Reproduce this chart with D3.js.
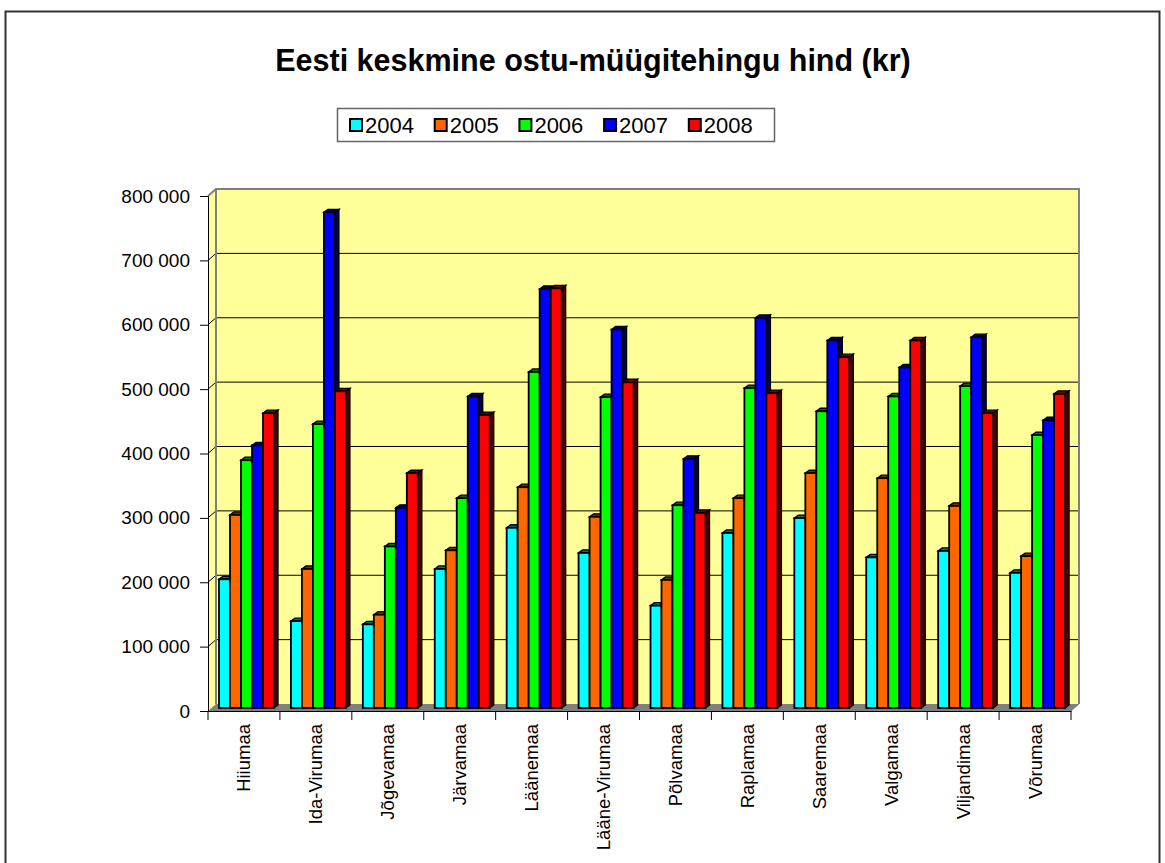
<!DOCTYPE html>
<html><head><meta charset="utf-8">
<script src="https://cdn.jsdelivr.net/npm/d3@7"></script>
<style>html,body{margin:0;padding:0;background:#fff}svg{display:block}</style>
</head><body>
<script>
const categories = ["Hiiumaa","Ida-Virumaa","Jõgevamaa","Järvamaa","Läänemaa","Lääne-Virumaa","Põlvamaa","Raplamaa","Saaremaa","Valgamaa","Viljandimaa","Võrumaa"];
const years = ["2004","2005","2006","2007","2008"];
const v2004 = [200000,135000,130000,216000,280000,241000,159000,272000,295000,234000,244000,210000];
const v2005 = [300000,216000,145000,245000,343000,297000,199000,326000,365000,357000,314000,236000];
const v2006 = [385000,441000,251000,326000,522000,483000,315000,497000,461000,484000,500000,424000];
const v2007 = [408000,770000,311000,484000,651000,588000,387000,606000,571000,529000,576000,447000];
const v2008 = [458000,492000,365000,455000,652000,506000,303000,489000,545000,571000,458000,488000];
const yTicks = [0,100000,200000,300000,400000,500000,600000,700000,800000];
const colors = ["#00FFFF","#FF6600","#00FF00","#0000FF","#FF0000"];
const title = "Eesti keskmine ostu-müügitehingu hind (kr)";

const series = [v2004,v2005,v2006,v2007,v2008];
const W = 1165, H = 863;
const svg = d3.select("body").append("svg").attr("width",W).attr("height",H);
const fmt = d3.formatLocale({decimal:",",thousands:" ",grouping:[3],currency:["",""]}).format(",d");

svg.append("rect").attr("x",5.5).attr("y",11.5).attr("width",1154).attr("height",900)
  .attr("fill","none").attr("stroke","#333").attr("stroke-width",2);

svg.append("text").attr("x",593).attr("y",71).attr("text-anchor","middle")
  .attr("font-family","Liberation Sans, Arial, sans-serif").attr("font-weight","bold")
  .attr("font-size",30.5).text(title);

// scales
const yFront = d3.scaleLinear().domain([0,800000]).range([711,196]);
const DX = 8, DY = -7;
const yBack = v => yFront(v) + DY;
const yBar = d3.scaleLinear().domain([0,800000]).range([708,193]);
const x0 = d3.scaleBand().domain(categories).range([208,1071]).padding(0);
const x1 = d3.scaleBand().domain(years).range([11,66]).padding(0);

const xL = 208, xR = 1071;
// walls
svg.append("polygon").attr("points",[[xL,yFront(0)],[xL+DX,yBack(0)],[xL+DX,yBack(800000)],[xL,yFront(800000)]].join(" "))
  .attr("fill","#FFFF99");
svg.append("rect").attr("x",xL+DX).attr("y",yBack(800000)).attr("width",xR-xL).attr("height",yBack(0)-yBack(800000))
  .attr("fill","#FFFF99");
// floor
svg.append("polygon").attr("points",[[xL,yFront(0)],[xR,yFront(0)],[xR+DX,yBack(0)],[xL+DX,yBack(0)]].join(" "))
  .attr("fill","#808080");
// gridlines
yTicks.filter(t=>t>0).forEach(t=>{
  svg.append("line").attr("x1",xL+DX).attr("x2",xR+DX).attr("y1",yBack(t)).attr("y2",yBack(t))
    .attr("stroke","#000").attr("stroke-width",1);
  svg.append("line").attr("x1",xL).attr("x2",xL+DX).attr("y1",yFront(t)).attr("y2",yBack(t))
    .attr("stroke","#000").attr("stroke-width",1);
});
// wall borders
svg.append("polyline").attr("points",[[xL,yFront(800000)],[xL+DX,yBack(800000)],[xR+DX,yBack(800000)],[xR+DX,yBack(0)]].join(" "))
  .attr("fill","none").attr("stroke","#808080").attr("stroke-width",2);
svg.append("line").attr("x1",xL+DX).attr("x2",xL+DX).attr("y1",yBack(800000)).attr("y2",yBack(0))
  .attr("stroke","#808080").attr("stroke-width",2);
svg.append("line").attr("x1",xR).attr("x2",xR+DX).attr("y1",yFront(0)).attr("y2",yBack(0))
  .attr("stroke","#808080").attr("stroke-width",1);

// bars
const bw = x1.bandwidth(), bdx = 4, bdy = -3;
categories.forEach((c,i)=>{
  const g = svg.append("g");
  years.forEach((yr,j)=>{
    const v = series[j][i];
    const x = x0(c) + x1(yr);
    const top = yBar(v), base = yBar(0);
    const col = d3.color(colors[j]);
    g.append("polygon").attr("points",[[x+bw,top],[x+bw+bdx,top+bdy],[x+bw+bdx,base+bdy],[x+bw,base]].join(" "))
      .attr("fill",col.darker(3.2)).attr("stroke","#000").attr("stroke-width",1.3);
    g.append("polygon").attr("points",[[x,top],[x+bdx,top+bdy],[x+bw+bdx,top+bdy],[x+bw,top]].join(" "))
      .attr("fill",col.darker(2.2)).attr("stroke","#000").attr("stroke-width",1.3);
    g.append("rect").attr("x",x).attr("y",top).attr("width",bw).attr("height",base-top)
      .attr("fill",colors[j]).attr("stroke","#000").attr("stroke-width",1.8);
  });
});

// y axis
const yAxis = d3.axisLeft(yFront).tickValues(yTicks).tickSize(8).tickPadding(10).tickFormat(fmt);
const ya = svg.append("g").attr("transform",`translate(${xL},0)`).call(yAxis);
ya.selectAll("text").attr("font-family","Liberation Sans, Arial, sans-serif").attr("font-size",19).attr("fill","#000");
ya.selectAll("line,path").attr("stroke","#000");

// x axis
const xa = svg.append("g").attr("transform",`translate(0,${yFront(0)})`)
  .call(d3.axisBottom(x0).tickSize(0).tickFormat(""));
xa.select("path").attr("stroke","#000");
d3.range(categories.length+1).forEach(k=>{
  const xx = xL + k*x0.step();
  xa.append("line").attr("x1",xx).attr("x2",xx).attr("y1",0).attr("y2",9).attr("stroke","#000");
});
categories.forEach(c=>{
  const cx = x0(c) + x0.bandwidth()/2;
  svg.append("text").attr("transform",`translate(${cx},${yFront(0)+13}) rotate(-90)`)
    .attr("text-anchor","end").attr("dominant-baseline","central")
    .attr("font-family","Liberation Sans, Arial, sans-serif").attr("font-size",18.5).text(c);
});

// legend
const lg = svg.append("g");
lg.append("rect").attr("x",337.5).attr("y",108.5).attr("width",437).attr("height",33)
  .attr("fill","#fff").attr("stroke","#666").attr("stroke-width",1.5);
years.forEach((yr,j)=>{
  const lx = 350 + j*84.7;
  lg.append("rect").attr("x",lx).attr("y",119).attr("width",12).attr("height",12)
    .attr("fill",colors[j]).attr("stroke","#000").attr("stroke-width",2);
  lg.append("text").attr("x",lx+15).attr("y",125).attr("dominant-baseline","central")
    .attr("font-family","Liberation Sans, Arial, sans-serif").attr("font-size",22).text(yr);
});
</script>
</body></html>
